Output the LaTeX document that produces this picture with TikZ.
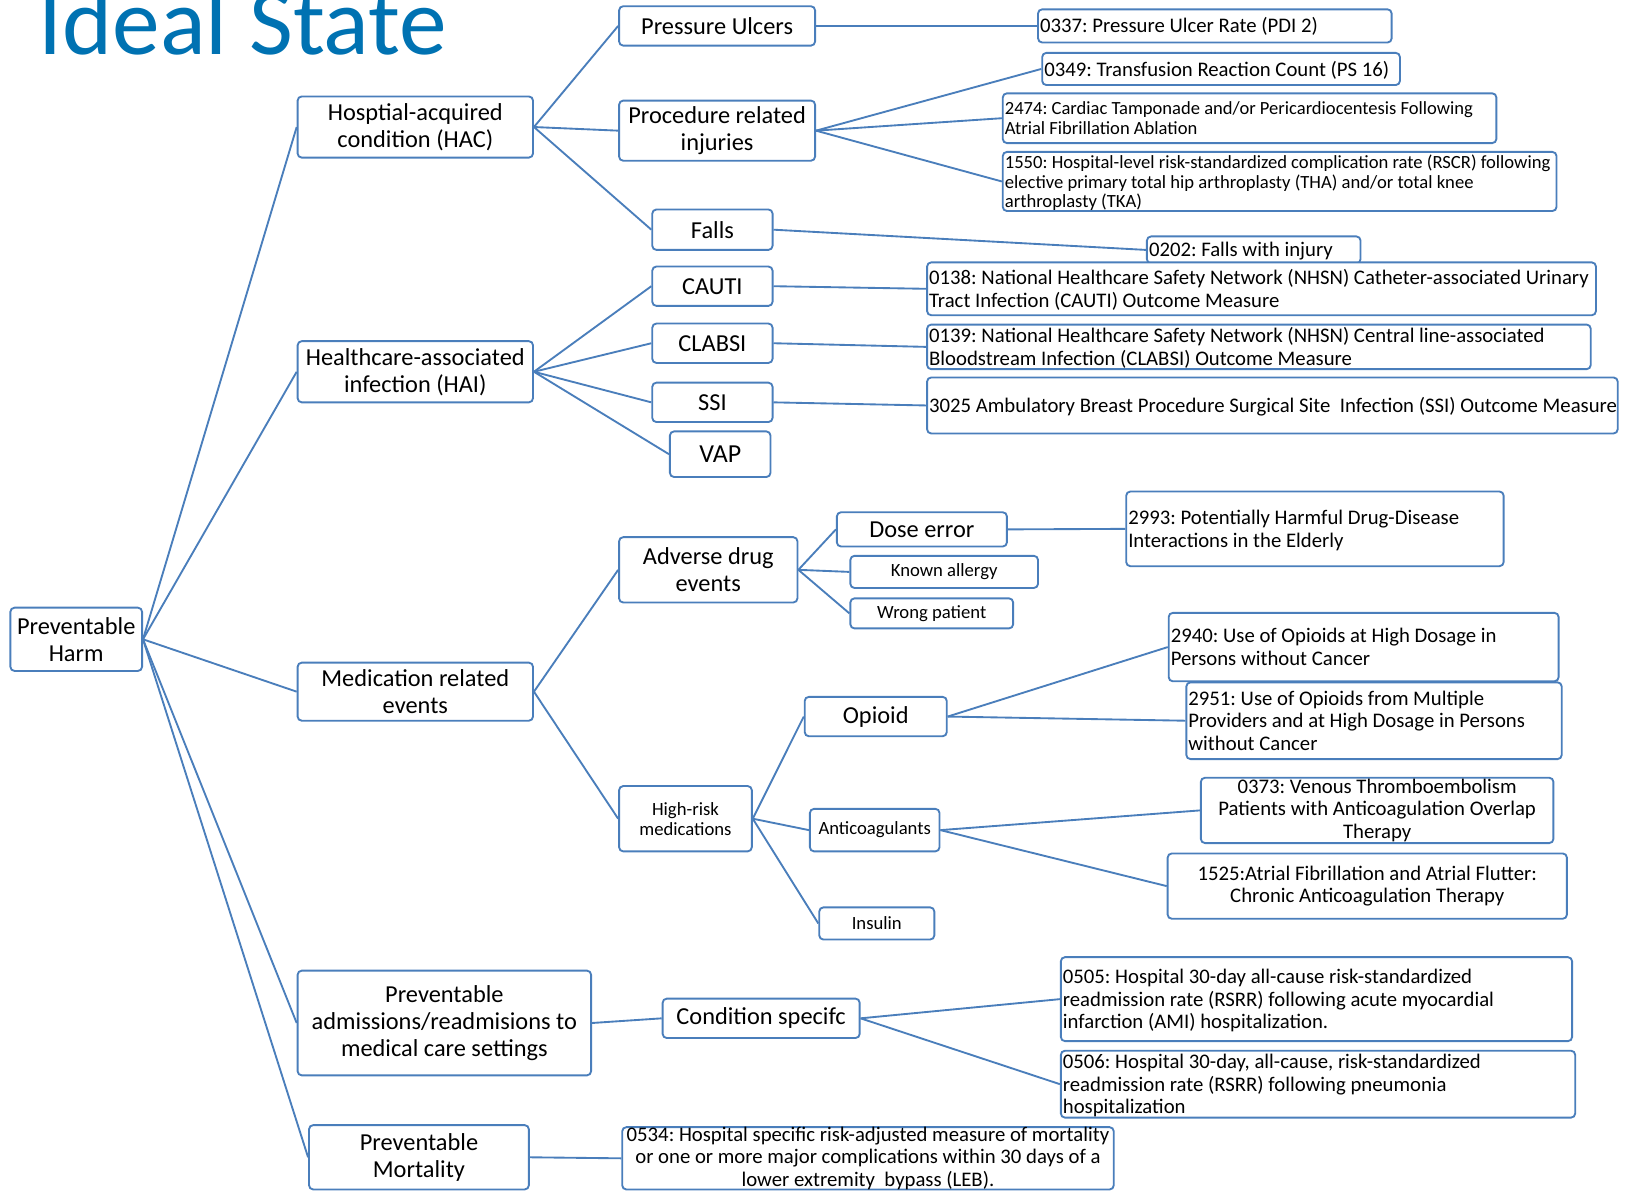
\documentclass[tikz,border=0pt]{standalone}
\usepackage{fontspec}
\setmainfont{Carlito}
\definecolor{edge}{HTML}{4A7EBB}
\definecolor{titleblue}{HTML}{0072B2}

% centred box from (x1,y1) to (x2,y2): name, x1, y1, x2, y2, options, text
\newcommand\bx[7]{%
  \pgfmathsetmacro\bxw{#4-#2}%
  \pgfmathsetmacro\bxh{#5-#3}%
  \node[box, minimum width=\bxw pt, minimum height=\bxh pt, #6] (#1)
    at ({(#2+#4)/2},{(#3+#5)/2}) {#7};}
% left-aligned box, lines broken only at \\
\newcommand\bl[7]{%
  \pgfmathsetmacro\bxt{#4-#2-4}%
  \bx{#1}{#2}{#3}{#4}{#5}{#6}{\makebox[\bxt pt][l]{\raisebox{-2.5pt}[\height][\depth]{\begin{tabular}{@{}l@{}}#7\end{tabular}}}}}

\tikzset{
  box/.style={draw=edge, line width=1.8pt, rounded corners=4pt, fill=white,
    inner xsep=2pt, inner ysep=0pt, text=black, align=center},
  link/.style={draw=edge, line width=1.8pt},
  fA/.style={font=\fontsize{23.5}{26}\selectfont},
  fV/.style={font=\fontsize{25}{28}\selectfont},
  fS/.style={font=\fontsize{18}{19.5}\selectfont},
  fM/.style={font=\fontsize{20}{21.5}\selectfont},
  fT/.style={font=\fontsize{17.9}{19}\selectfont},
  fU/.style={font=\fontsize{17.95}{19}\selectfont},
}

\begin{document}
\frenchspacing
\begin{tikzpicture}[x=1pt, y=-1pt]
\useasboundingbox (0,0) rectangle (1568,1150);
\clip (0,0) rectangle (1568,1150);

\node[anchor=base west, inner sep=0pt, text=titleblue,
  font=\fontsize{92}{96}\selectfont] (title) at (37,53) {Ideal State};

% root and main categories
\bx{ph}{10}{586}{137}{647}{fA}{Preventable\\Harm}
\bx{hac}{287}{93}{514}{152}{fA}{Hosptial-acquired\\condition (HAC)}
\bx{hai}{287}{329}{514}{388}{fA}{Healthcare-associated\\infection (HAI)}
\bx{med}{287}{639}{514}{695}{fA}{Medication related\\events}
\bx{adm}{287}{936}{570}{1037}{fA}{Preventable\\admissions/readmisions to\\medical care settings}
\bx{mort}{298}{1085}{510}{1147}{fA}{Preventable\\Mortality}

% sub-categories
\bx{pu}{597}{6}{786}{44}{fA}{Pressure Ulcers}
\bx{pri}{597}{97}{786}{155}{fA}{Procedure related\\injuries}
\bx{falls}{629}{202}{745}{241}{fA}{Falls}
\bx{cauti}{629}{257}{745}{295}{fA}{CAUTI}
\bx{clabsi}{629}{312}{745}{350}{fA}{CLABSI}
\bx{ssi}{629}{369}{745}{407}{fA}{SSI}
\bx{vap}{646}{416}{743}{460}{fV}{VAP}
\bx{ade}{597}{518}{769}{581}{fA}{Adverse drug\\events}
\bx{hrm}{597}{758}{725}{821}{fS}{High-risk\\medications}
\bx{dose}{807}{494}{971}{527}{fA}{Dose error}
\bx{allergy}{820}{536}{1001}{567}{fS}{Known allergy}
\bx{wrong}{820}{577}{977}{606}{fS}{Wrong patient}
\bx{opioid}{776}{672}{913}{710}{fA}{Opioid}
\bx{anti}{781}{780}{906}{821}{fS}{Anticoagulants}
\bx{insulin}{790}{875}{901}{906}{fS}{Insulin}
\bx{cond}{639}{963}{829}{1001}{fA}{Condition specifc}

% measures
\bl{m0337}{1001}{9}{1342}{41}{fM}{0337: Pressure Ulcer Rate (PDI 2)}
\bl{m0349}{1005}{51}{1350}{82}{fM}{0349: Transfusion Reaction Count (PS 16)}
\bl{m2474}{967}{90}{1443}{138}{fT}{2474: Cardiac Tamponade and/or Pericardiocentesis Following\\Atrial Fibrillation Ablation}
\bl{m1550}{967}{147}{1501}{203}{fU}{1550: Hospital-level risk-standardized complication rate (RSCR) following\\elective primary total hip arthroplasty (THA) and/or total knee\\arthroplasty (TKA)}
\bl{m0202}{1106}{228}{1312}{254}{fM}{0202: Falls with injury}
\bl{m0138}{894}{253}{1539}{304}{fM}{0138: National Healthcare Safety Network (NHSN) Catheter-associated Urinary\\Tract Infection (CAUTI) Outcome Measure}
\bl{m0139}{894}{313}{1534}{356}{fM}{0139: National Healthcare Safety Network (NHSN) Central line-associated\\Bloodstream Infection (CLABSI) Outcome Measure}
\bl{m3025}{894}{364}{1560}{418}{fM}{3025 Ambulatory Breast Procedure Surgical Site\ \ Infection (SSI) Outcome Measure}
\bl{m2993}{1086}{474}{1450}{546}{fM}{2993: Potentially Harmful Drug-Disease\\Interactions in the Elderly}
\bl{m2940}{1127}{591}{1503}{657}{fM}{2940: Use of Opioids at High Dosage in\\Persons without Cancer}
\bl{m2951}{1144}{658}{1506}{732}{fM}{2951: Use of Opioids from Multiple\\Providers and at High Dosage in Persons\\without Cancer}
\bx{m0373}{1158}{750}{1498}{813}{fM}{0373: Venous Thromboembolism\\Patients with Anticoagulation Overlap\\Therapy}
\bx{m1525}{1126}{823}{1511}{886}{fM}{1525:Atrial Fibrillation and Atrial Flutter:\\Chronic Anticoagulation Therapy}
\bl{m0505}{1023}{923}{1516}{1004}{fM}{0505: Hospital 30-day all-cause risk-standardized\\readmission rate (RSRR) following acute myocardial\\infarction (AMI) hospitalization.}
\bl{m0506}{1023}{1014}{1519}{1077}{fM}{0506: Hospital 30-day, all-cause, risk-standardized\\readmission rate (RSRR) following pneumonia\\hospitalization}
\bx{m0534}{600}{1087}{1074}{1147}{fM}{0534: Hospital specific risk-adjusted measure of mortality\\or one or more major complications within 30 days of a\\lower extremity\ \ bypass (LEB).}

% connectors
\foreach \c in {hac,hai,med,adm,mort} \draw[link] (ph.east) -- (\c.west);
\foreach \c in {pu,pri,falls} \draw[link] (hac.east) -- (\c.west);
\draw[link] (pu.east) -- (m0337.west);
\foreach \c in {m0349,m2474,m1550} \draw[link] (pri.east) -- (\c.west);
\draw[link] (falls.east) -- (m0202.west);
\foreach \c in {cauti,clabsi,ssi,vap} \draw[link] (hai.east) -- (\c.west);
\draw[link] (cauti.east) -- (m0138.west);
\draw[link] (clabsi.east) -- (m0139.west);
\draw[link] (ssi.east) -- (m3025.west);
\foreach \c in {ade,hrm} \draw[link] (med.east) -- (\c.west);
\foreach \c in {dose,allergy,wrong} \draw[link] (ade.east) -- (\c.west);
\draw[link] (dose.east) -- (m2993.west);
\foreach \c in {opioid,anti,insulin} \draw[link] (hrm.east) -- (\c.west);
\foreach \c in {m2940,m2951} \draw[link] (opioid.east) -- (\c.west);
\foreach \c in {m0373,m1525} \draw[link] (anti.east) -- (\c.west);
\draw[link] (adm.east) -- (cond.west);
\foreach \c in {m0505,m0506} \draw[link] (cond.east) -- (\c.west);
\draw[link] (mort.east) -- (m0534.west);
\end{tikzpicture}
\end{document}
